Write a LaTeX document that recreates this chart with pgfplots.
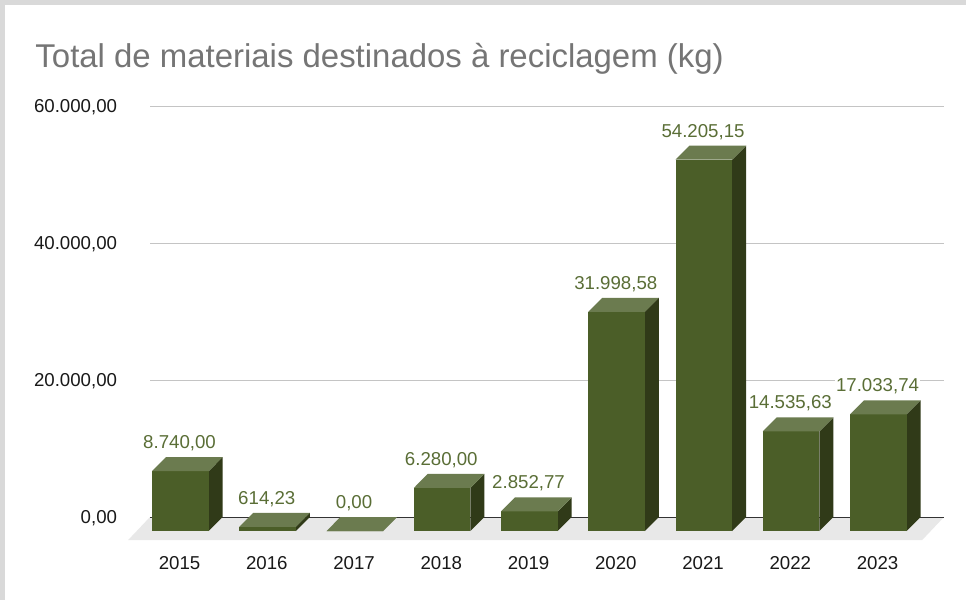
\documentclass[border=0pt]{standalone}
\usepackage{pgfplots}
\usepackage{pgfplotstable}
\pgfplotsset{compat=1.18}
\usepackage{fontspec}
\setmainfont{Liberation Sans}
\definecolor{FrameGray}{HTML}{D9D9D9}
\definecolor{FloorGray}{HTML}{E8E8E8}
\definecolor{GridGray}{HTML}{C4C4C4}
\definecolor{BarFront}{HTML}{4B5E28}
\definecolor{BarTop}{HTML}{6B7B4F}
\definecolor{BarSide}{HTML}{303A18}
\definecolor{LabelGreen}{HTML}{5A6E36}
\definecolor{TitleGray}{HTML}{757575}

% one pixel of the 966x600 reference
\newcommand{\px}{0.75pt}
% values go past 16383, so subtract with the fpu
\newcommand{\fpuset}[2]{\begingroup\pgfkeys{/pgf/fpu=true,/pgf/fpu/output format=fixed}\pgfmathparse{#2}\xdef#1{\pgfmathresult}\endgroup}

\pgfplotstableread{
idx value label
0 8740.00 8.740,00
1 614.23 614,23
2 0.00 0,00
3 6280.00 6.280,00
4 2852.77 2.852,77
5 31998.58 31.998,58
6 54205.15 54.205,15
7 14535.63 14.535,63
8 17033.74 17.033,74
}\datatable

\begin{document}
\begin{tikzpicture}[x=\px,y=\px]
\path[use as bounding box] (0,0) rectangle (966,600);
\fill[FrameGray] (0,0) rectangle (966,600);
\fill[white] (5,0) rectangle (966,595);
\begin{axis}[
  at={(112.5pt,62.25pt)},
  anchor=south west,
  scale only axis,
  width=794*\px, height=411*\px,
  clip=false,
  xmin=-0.35, xmax=8.75,
  ymin=0, ymax=60000,
  scaled y ticks=false,
  axis line style={draw=none},
  tick style={draw=none},
  axis x line*=bottom,
  axis y line*=left,
  xtick={0,1,2,3,4,5,6,7,8},
  xticklabels={2015,2016,2017,2018,2019,2020,2021,2022,2023},
  xticklabel style={font=\fontsize{14pt}{16pt}\selectfont, color=black!90, anchor=base, xshift=-0.75pt, yshift=-39pt, inner sep=0pt},
  ytick={0,20000,40000,60000},
  yticklabels={{0,00},{20.000,00},{40.000,00},{60.000,00}},
  yticklabel style={font=\fontsize{14pt}{16pt}\selectfont, color=black!90, anchor=east, xshift=-24.5pt, yshift=-1pt, inner sep=0pt},
  ymajorgrids=true,
  grid style={GridGray, line width=0.6pt},
  no markers,
  title={Total de materiais destinados à reciclagem (kg)},
  title style={font=\fontsize{24.7pt}{28pt}\selectfont, color=TitleGray, at={(-93*\px,411*\px+57*\px)}, anchor=mid west, inner sep=0pt},
]
% floor
\addplot[fill=FloorGray, draw=none, forget plot] coordinates {(-0.60,-3360) (8.50,-3360) (8.75,0) (-0.35,0)} --cycle;
\addplot[color=black!80, line width=0.6pt, forget plot] coordinates {(-0.35,0) (8.75,0)};
% bars: front, side and top faces; depth is 14 px in x and y
\pgfplotsforeachungrouped \i in {0,...,8}{
  \pgfplotstablegetelem{\i}{value}\of\datatable
  \edef\v{\pgfplotsretval}
  \fpuset{\vf}{\v-2044}
  \pgfmathsetmacro{\xl}{\i-0.327}
  \pgfmathsetmacro{\xr}{\i+0.322}
  \pgfmathsetmacro{\xbl}{\i-0.167}
  \pgfmathsetmacro{\xbr}{\i+0.482}
  \addplot[fill=BarSide, draw=none, forget plot] coordinates {(\xr,-2044) (\xbr,0) (\xbr,\v) (\xr,\vf)} --cycle;
  \addplot[fill=BarFront, draw=none, forget plot] coordinates {(\xl,-2044) (\xr,-2044) (\xr,\vf) (\xl,\vf)} --cycle;
  \addplot[fill=BarTop, draw=none, forget plot] coordinates {(\xl,\vf) (\xr,\vf) (\xbr,\v) (\xbl,\v)} --cycle;
}
% value labels
\addplot[
  draw=none, forget plot,
  point meta=explicit symbolic,
  nodes near coords,
  nodes near coords style={font=\fontsize{14pt}{16pt}\selectfont, color=LabelGreen, fill=white, inner sep=1pt, anchor=center, xshift=-0.75pt, yshift=10.5pt},
] table[x=idx, y=value, meta=label] {\datatable};
\end{axis}
\end{tikzpicture}
\end{document}
